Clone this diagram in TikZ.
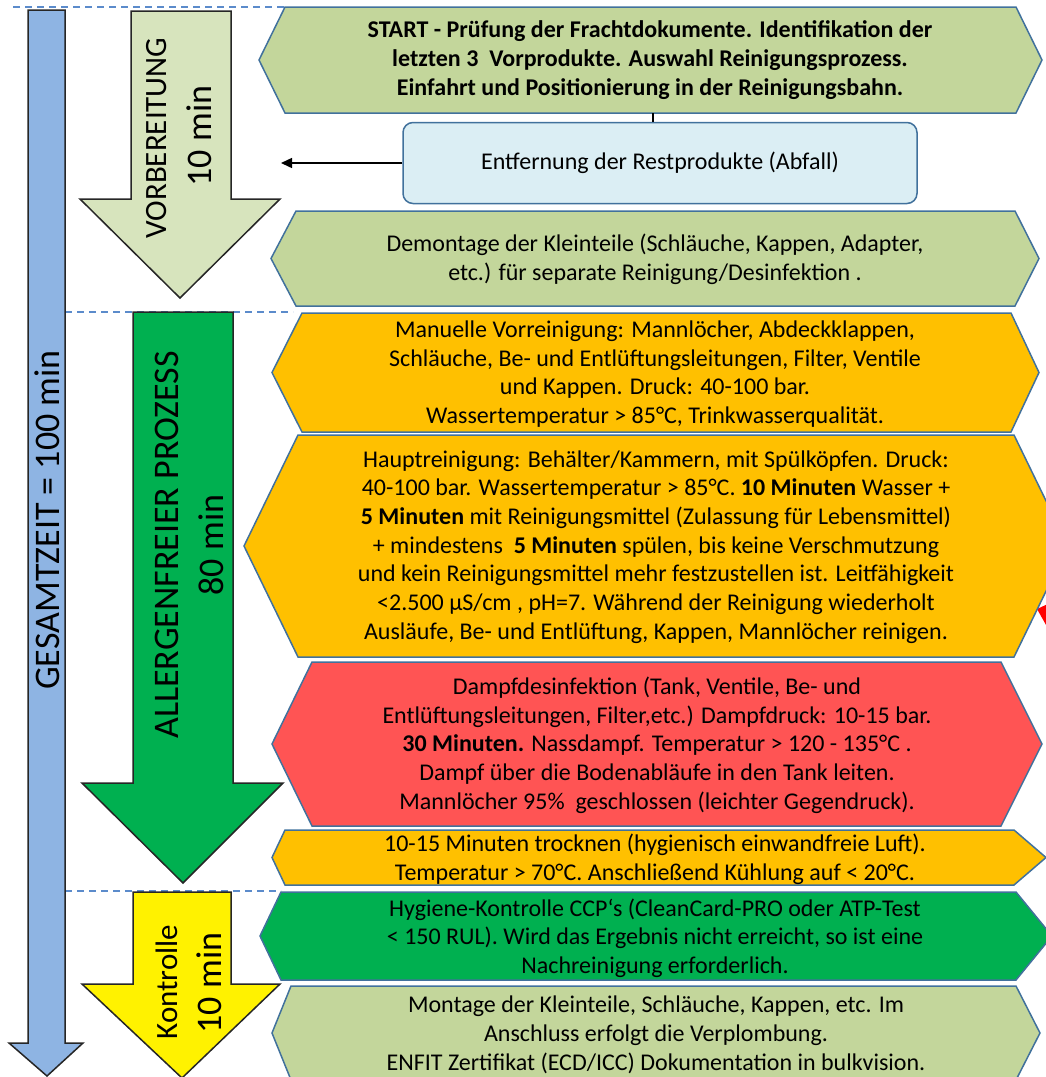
\documentclass[tikz,border=0pt]{standalone}
\usepackage{fontspec}
\setmainfont{Carlito}
\usetikzlibrary{arrows.meta}
\definecolor{hexgreen}{HTML}{C3D69B}
\definecolor{hexorange}{HTML}{FFC000}
\definecolor{hexred}{HTML}{FF5454}
\definecolor{hexdkgreen}{HTML}{00B050}
\definecolor{hexedge}{HTML}{41719C}
\definecolor{boxfill}{HTML}{DBEEF4}
\definecolor{barblue}{HTML}{8EB4E3}
\definecolor{prepgreen}{HTML}{D7E4BD}
\definecolor{dashblue}{HTML}{5B8BCB}
\definecolor{arrowedge}{HTML}{262626}
\definecolor{peekred}{HTML}{FF0000}
% #1 left x, #2 top-left x, #3 top-right x, #4 right x, #5 top y, #6 bottom y, #7 fill
\newcommand{\hexpath}[7]{%
  \filldraw[hexframe, fill=#7] (#1,{(#5+#6)/2}) -- (#2,#5) -- (#3,#5) -- (#4,{(#5+#6)/2}) -- (#3,#6) -- (#2,#6) -- cycle;}
\begin{document}
\begin{tikzpicture}[x=1pt,y=-1pt,
  hexframe/.style={draw=hexedge, line width=1.5pt, line join=miter},
  blockarrow/.style={draw=arrowedge, line width=1.5pt, line join=miter},
  hextext/.style={align=center, inner sep=0pt, font=\fontsize{24}{28.7}\selectfont},
  phaselabel/.style={rotate=90, inner sep=0pt, font=\fontsize{31}{36}\selectfont},
  phasetime/.style={rotate=90, inner sep=0pt, font=\fontsize{36}{40}\selectfont},
  sepline/.style={draw=dashblue, line width=1.5pt, dash pattern=on 7pt off 5pt}]
\useasboundingbox (0,0) rectangle (1046,1077);
\clip (0,0) rectangle (1046,1077);

% dashed separators
\draw[sepline] (13,7) -- (285,7);
\draw[sepline] (65,312) -- (293,312);
\draw[sepline] (65,891) -- (281,891);

% total time arrow
\filldraw[blockarrow, fill=barblue] (28,10) -- (65,10) -- (65,1043) -- (83,1043) -- (47,1076) -- (9,1043) -- (28,1043) -- cycle;
\node[phasetime] (total) at (47,520) {GESAMTZEIT = 100 min};

% preparation arrow
\filldraw[blockarrow, fill=prepgreen] (131,11) -- (231,11) -- (231,199) -- (280,199) -- (180,298) -- (80,199) -- (131,199) -- cycle;
\node[phaselabel] (prep) at (157,138) {VORBEREITUNG};
\node[phasetime] (preptime) at (199,136) {10 min};

% allergen-free process arrow
\filldraw[blockarrow, fill=hexdkgreen] (133,312) -- (233,312) -- (233,783) -- (283,783) -- (183,883) -- (82,783) -- (133,783) -- cycle;
\node[phasetime] (allergen) at (167,545) {ALLERGENFREIER PROZESS};
\node[phasetime] (allergentime) at (211,545) {80 min};

% control arrow
\filldraw[blockarrow, fill=yellow] (133,892) -- (231,892) -- (231,984) -- (280,984) -- (182,1078) -- (82,984) -- (133,984) -- cycle;
\node[phaselabel] (check) at (167,982) {Kontrolle};
\node[phasetime] (checktime) at (209,983) {10 min};

% red shape peeking in at the right edge
\fill[peekred] (1037,609) -- (1050,603) -- (1050,632) -- cycle;

% hexagons
\hexpath{259}{285}{1016}{1042}{7}{113}{hexgreen}
\hexpath{271}{296}{1015}{1039}{211}{306}{hexgreen}
\hexpath{272}{302}{1011}{1039}{313}{432}{hexorange}
\hexpath{244}{298}{1014}{1068}{435}{657}{hexorange}
\hexpath{272}{312}{1001}{1042}{662}{826}{hexred}
\hexpath{272}{285}{1014}{1046}{830}{885}{hexorange}
\hexpath{260}{281}{1016}{1052}{892}{980}{hexdkgreen}
\hexpath{272}{291}{1016}{1040}{986}{1080}{hexgreen}

% connector start -> waste box
\coordinate (startbottom) at (653,113);
\node[draw=hexedge, line width=1.5pt, fill=boxfill, rounded corners=10pt, minimum width=514pt, minimum height=81pt, inner sep=0pt, font=\fontsize{24}{28.7}\selectfont] (waste) at (660,163) {Entfernung der Restprodukte (Abfall)};
\draw[line width=1.2pt] (startbottom) -- (startbottom |- waste.north);
\coordinate (wasteout) at (281,163);
\draw[line width=1.5pt, -{Triangle[length=11pt,width=10pt]}] (waste.west) -- (wasteout);

% texts
\node[hextext, font=\bfseries\fontsize{24}{28.7}\selectfont] (start) at (650,60) {START - Prüfung der Frachtdokumente. Identifikation der\\letzten 3\ \ Vorprodukte. Auswahl Reinigungsprozess.\\Einfahrt und Positionierung in der Reinigungsbahn.};
\node[hextext] (dismount) at (655,259) {Demontage der Kleinteile (Schläuche, Kappen, Adapter,\\etc.) für separate Reinigung/Desinfektion .};
\node[hextext] (precleaning) at (655,374) {Manuelle Vorreinigung: Mannlöcher, Abdeckklappen,\\Schläuche, Be- und Entlüftungsleitungen, Filter, Ventile\\und Kappen. Druck: 40-100 bar.\\Wassertemperatur > 85°C, Trinkwasserqualität.};
\node[hextext] (maincleaning) at (656,547) {Hauptreinigung: Behälter/Kammern, mit Spülköpfen. Druck:\\40-100 bar. Wassertemperatur > 85°C. \textbf{10 Minuten} Wasser +\\\textbf{5 Minuten} mit Reinigungsmittel (Zulassung für Lebensmittel)\\+ mindestens\ \ \textbf{5 Minuten} spülen, bis keine Verschmutzung\\und kein Reinigungsmittel mehr festzustellen ist. Leitfähigkeit\\<2.500 µS/cm , pH=7. Während der Reinigung wiederholt\\Ausläufe, Be- und Entlüftung, Kappen, Mannlöcher reinigen.};
\node[hextext] (steam) at (657,745) {Dampfdesinfektion (Tank, Ventile, Be- und\\Entlüftungsleitungen, Filter,etc.) Dampfdruck: 10-15 bar.\\\textbf{30 Minuten.} Nassdampf. Temperatur > 120 - 135°C .\\Dampf über die Bodenabläufe in den Tank leiten.\\Mannlöcher 95\%\ \ geschlossen (leichter Gegendruck).};
\node[hextext] (drying) at (655,859) {10-15 Minuten trocknen (hygienisch einwandfreie Luft).\\Temperatur > 70°C. Anschließend Kühlung auf < 20°C.};
\node[hextext] (hygiene) at (655,938) {Hygiene-Kontrolle CCP‘s (CleanCard-PRO oder ATP-Test\\< 150 RUL). Wird das Ergebnis nicht erreicht, so ist eine\\Nachreinigung erforderlich.};
\node[hextext] (mounting) at (656,1035) {Montage der Kleinteile, Schläuche, Kappen, etc. Im\\Anschluss erfolgt die Verplombung.\\ENFIT Zertifikat (ECD/ICC) Dokumentation in bulkvision.};
\end{tikzpicture}
\end{document}
